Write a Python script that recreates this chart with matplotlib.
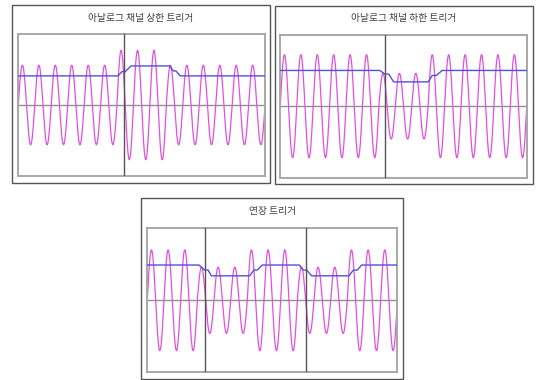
import matplotlib
matplotlib.use("Agg")
import matplotlib.pyplot as plt
import numpy as np
from matplotlib.patches import Rectangle

plt.rcParams['font.family'] = ['Noto Sans CJK KR', 'DejaVu Sans']

W, H = 536, 380

# panel titles
titles = ["아날로그 채널 상한 트리거", "아날로그 채널 하한 트리거", "연장 트리거"]

# sine amplitude for each of the 15 cycles (axis units, +-1 = plot height)
amp_upper = [0.56] * 6 + [0.77] * 3 + [0.56] * 6
amp_lower = [0.72] * 6 + [0.46] * 3 + [0.72] * 6
amp_ext = [0.70] * 3 + [0.46] * 3 + [0.70] * 3 + [0.46] * 3 + [0.70] * 3

# trigger level line (blue)
lvl_t_upper = [0, 6.06, 6.3, 6.5, 6.85, 9.2, 9.42, 9.58, 9.85, 15]
lvl_y_upper = [0.41, 0.41, 0.47, 0.47, 0.55, 0.55, 0.48, 0.48, 0.41, 0.41]
lvl_t_lower = [0, 6.06, 6.36, 6.6, 6.9, 9.0, 9.25, 9.5, 9.85, 15]
lvl_y_lower = [0.50, 0.50, 0.45, 0.45, 0.34, 0.34, 0.43, 0.43, 0.50, 0.50]
lvl_t_ext = [0, 3.1, 3.45, 3.65, 3.84, 6.14, 6.4, 6.6, 6.9, 9.12, 9.36, 9.56, 9.86,
             12.1, 12.36, 12.6, 12.86, 15]
lvl_y_ext = [0.49, 0.49, 0.42, 0.42, 0.34, 0.34, 0.42, 0.42, 0.49, 0.49, 0.42, 0.42, 0.34,
             0.34, 0.42, 0.42, 0.49, 0.49]

# trigger markers (vertical lines)
trig_upper = [6.42]
trig_lower = [6.36]
trig_ext = [3.48, 9.5]

panels = [
    # outer frame (x0, y0, x1, y1) px, inner plot (x0, y0, x1, y1) px, title y px
    dict(frame=(11.7, 5, 270, 183.3), inner=(18.3, 34, 265, 176), ty=17.5,
         title=titles[0], amp=amp_upper, lt=lvl_t_upper, ly=lvl_y_upper, trig=trig_upper),
    dict(frame=(274.7, 5.5, 533.3, 184.3), inner=(280.3, 34.7, 526.7, 177.7), ty=17.5,
         title=titles[1], amp=amp_lower, lt=lvl_t_lower, ly=lvl_y_lower, trig=trig_lower),
    dict(frame=(141, 198.3, 403.3, 378.5), inner=(147.3, 228.3, 397.3, 372.3), ty=211,
         title=titles[2], amp=amp_ext, lt=lvl_t_ext, ly=lvl_y_ext, trig=trig_ext),
]

fig = plt.figure(figsize=(W / 100, H / 100), dpi=100)
fig.patch.set_facecolor("white")

for p in panels:
    fx0, fy0, fx1, fy1 = p["frame"]
    fig.patches.append(Rectangle((fx0 / W, 1 - fy1 / H), (fx1 - fx0) / W, (fy1 - fy0) / H,
                                 transform=fig.transFigure, fill=False,
                                 edgecolor="#555555", linewidth=1.0))
    fig.text((fx0 + fx1) / 2 / W, 1 - p["ty"] / H, p["title"], ha="center", va="center",
             fontsize=7.0, color="#404040")

    x0, y0, x1, y1 = p["inner"]
    ax = fig.add_axes([x0 / W, 1 - y1 / H, (x1 - x0) / W, (y1 - y0) / H])
    ncyc = len(p["amp"])
    t = np.linspace(0, ncyc, 3000)
    a = np.array(p["amp"])[np.minimum((t).astype(int), ncyc - 1)]
    ax.axhline(0, color="#909090", linewidth=1.0, zorder=1)
    ax.plot(t, a * np.sin(2 * np.pi * t), color="#e050e0", linewidth=0.9, zorder=2)
    ax.plot(p["lt"], p["ly"], color="#5050dc", linewidth=1.0, zorder=3)
    for v in p["trig"]:
        ax.axvline(v, color="#555555", linewidth=1.0, zorder=4)
    ax.set_xlim(0, ncyc)
    ax.set_ylim(-1, 1)
    ax.set_xticks([])
    ax.set_yticks([])
    for s in ax.spines.values():
        s.set_color("#a8a8a8")
        s.set_linewidth(1.4)

fig.savefig("out.png", dpi=100, facecolor="white")
